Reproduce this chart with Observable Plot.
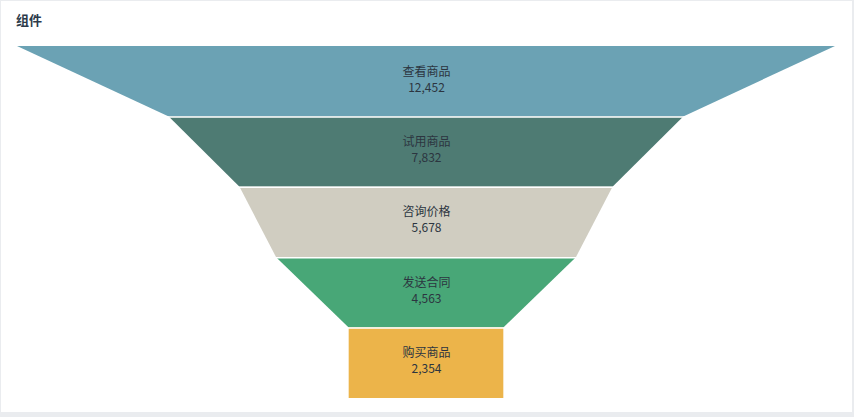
<!DOCTYPE html>
<html>
<head>
<meta charset="utf-8">
<script src="https://cdn.jsdelivr.net/npm/d3@7"></script>
<script src="https://cdn.jsdelivr.net/npm/@observablehq/plot@0.6"></script>
<style>
  html, body { margin: 0; padding: 0; }
  body { width: 854px; height: 417px; background: #eaecef; position: relative; overflow: hidden;
         font-family: "Noto Sans CJK SC", "Noto Sans", sans-serif; }
  #card { position: absolute; left: 1px; top: 1px; width: 851px; height: 411px; background: #fff; }
  #title { position: absolute; left: 16px; top: 10px; font-size: 13px; font-weight: bold; color: #2d3a4a; }
  #chart { position: absolute; left: 0; top: 0; }
</style>
</head>
<body>
<div id="card"></div>
<div id="title">组件</div>
<div id="chart"></div>
<script>
const stages = ["查看商品", "试用商品", "咨询价格", "发送合同", "购买商品"];
const values = [12452, 7832, 5678, 4563, 2354];
const colors = ["#6ba2b4", "#4e7b73", "#d0cdc1", "#48a777", "#ecb44a"];

const maxV = d3.max(values);
const areaData = [];
stages.forEach((s, i) => {
  const top = values[i];
  const bot = i < values.length - 1 ? values[i + 1] : values[i];
  areaData.push({stage: s, y: i, x1: -top / 2, x2: top / 2});
  areaData.push({stage: s, y: i + 1, x1: -bot / 2, x2: bot / 2});
});
const labels = stages.map((s, i) => ({stage: s, value: values[i], y: i + 0.5}));
const seps = d3.range(1, stages.length).map(i => ({y: i, x1: -values[i] / 2 - 50, x2: values[i] / 2 + 50}));

const chart = Plot.plot({
  width: 854,
  height: 417,
  margin: 0,
  x: {domain: [-maxV / 2, maxV / 2], range: [17, 835], axis: null},
  y: {domain: [0, 5], range: [46, 398], axis: null},
  color: {domain: stages, range: colors},
  style: {background: "transparent", fontFamily: "'Noto Sans CJK SC', sans-serif"},
  marks: [
    Plot.areaX(areaData, {x1: "x1", x2: "x2", y: "y", z: "stage", fill: "stage", curve: "linear"}),
    Plot.ruleY(seps, {y: "y", x1: "x1", x2: "x2", stroke: "#fff", strokeWidth: 1.5}),
    Plot.text(labels, {x: 0, y: "y", text: "stage", dy: -10, fontSize: 12, fill: "#2c3540"}),
    Plot.text(labels, {x: 0, y: "y", text: d => d3.format(",")(d.value), dy: 6, fontSize: 12, fill: "#2c3540"})
  ]
});
document.getElementById("chart").appendChild(chart);
</script>
</body>
</html>
